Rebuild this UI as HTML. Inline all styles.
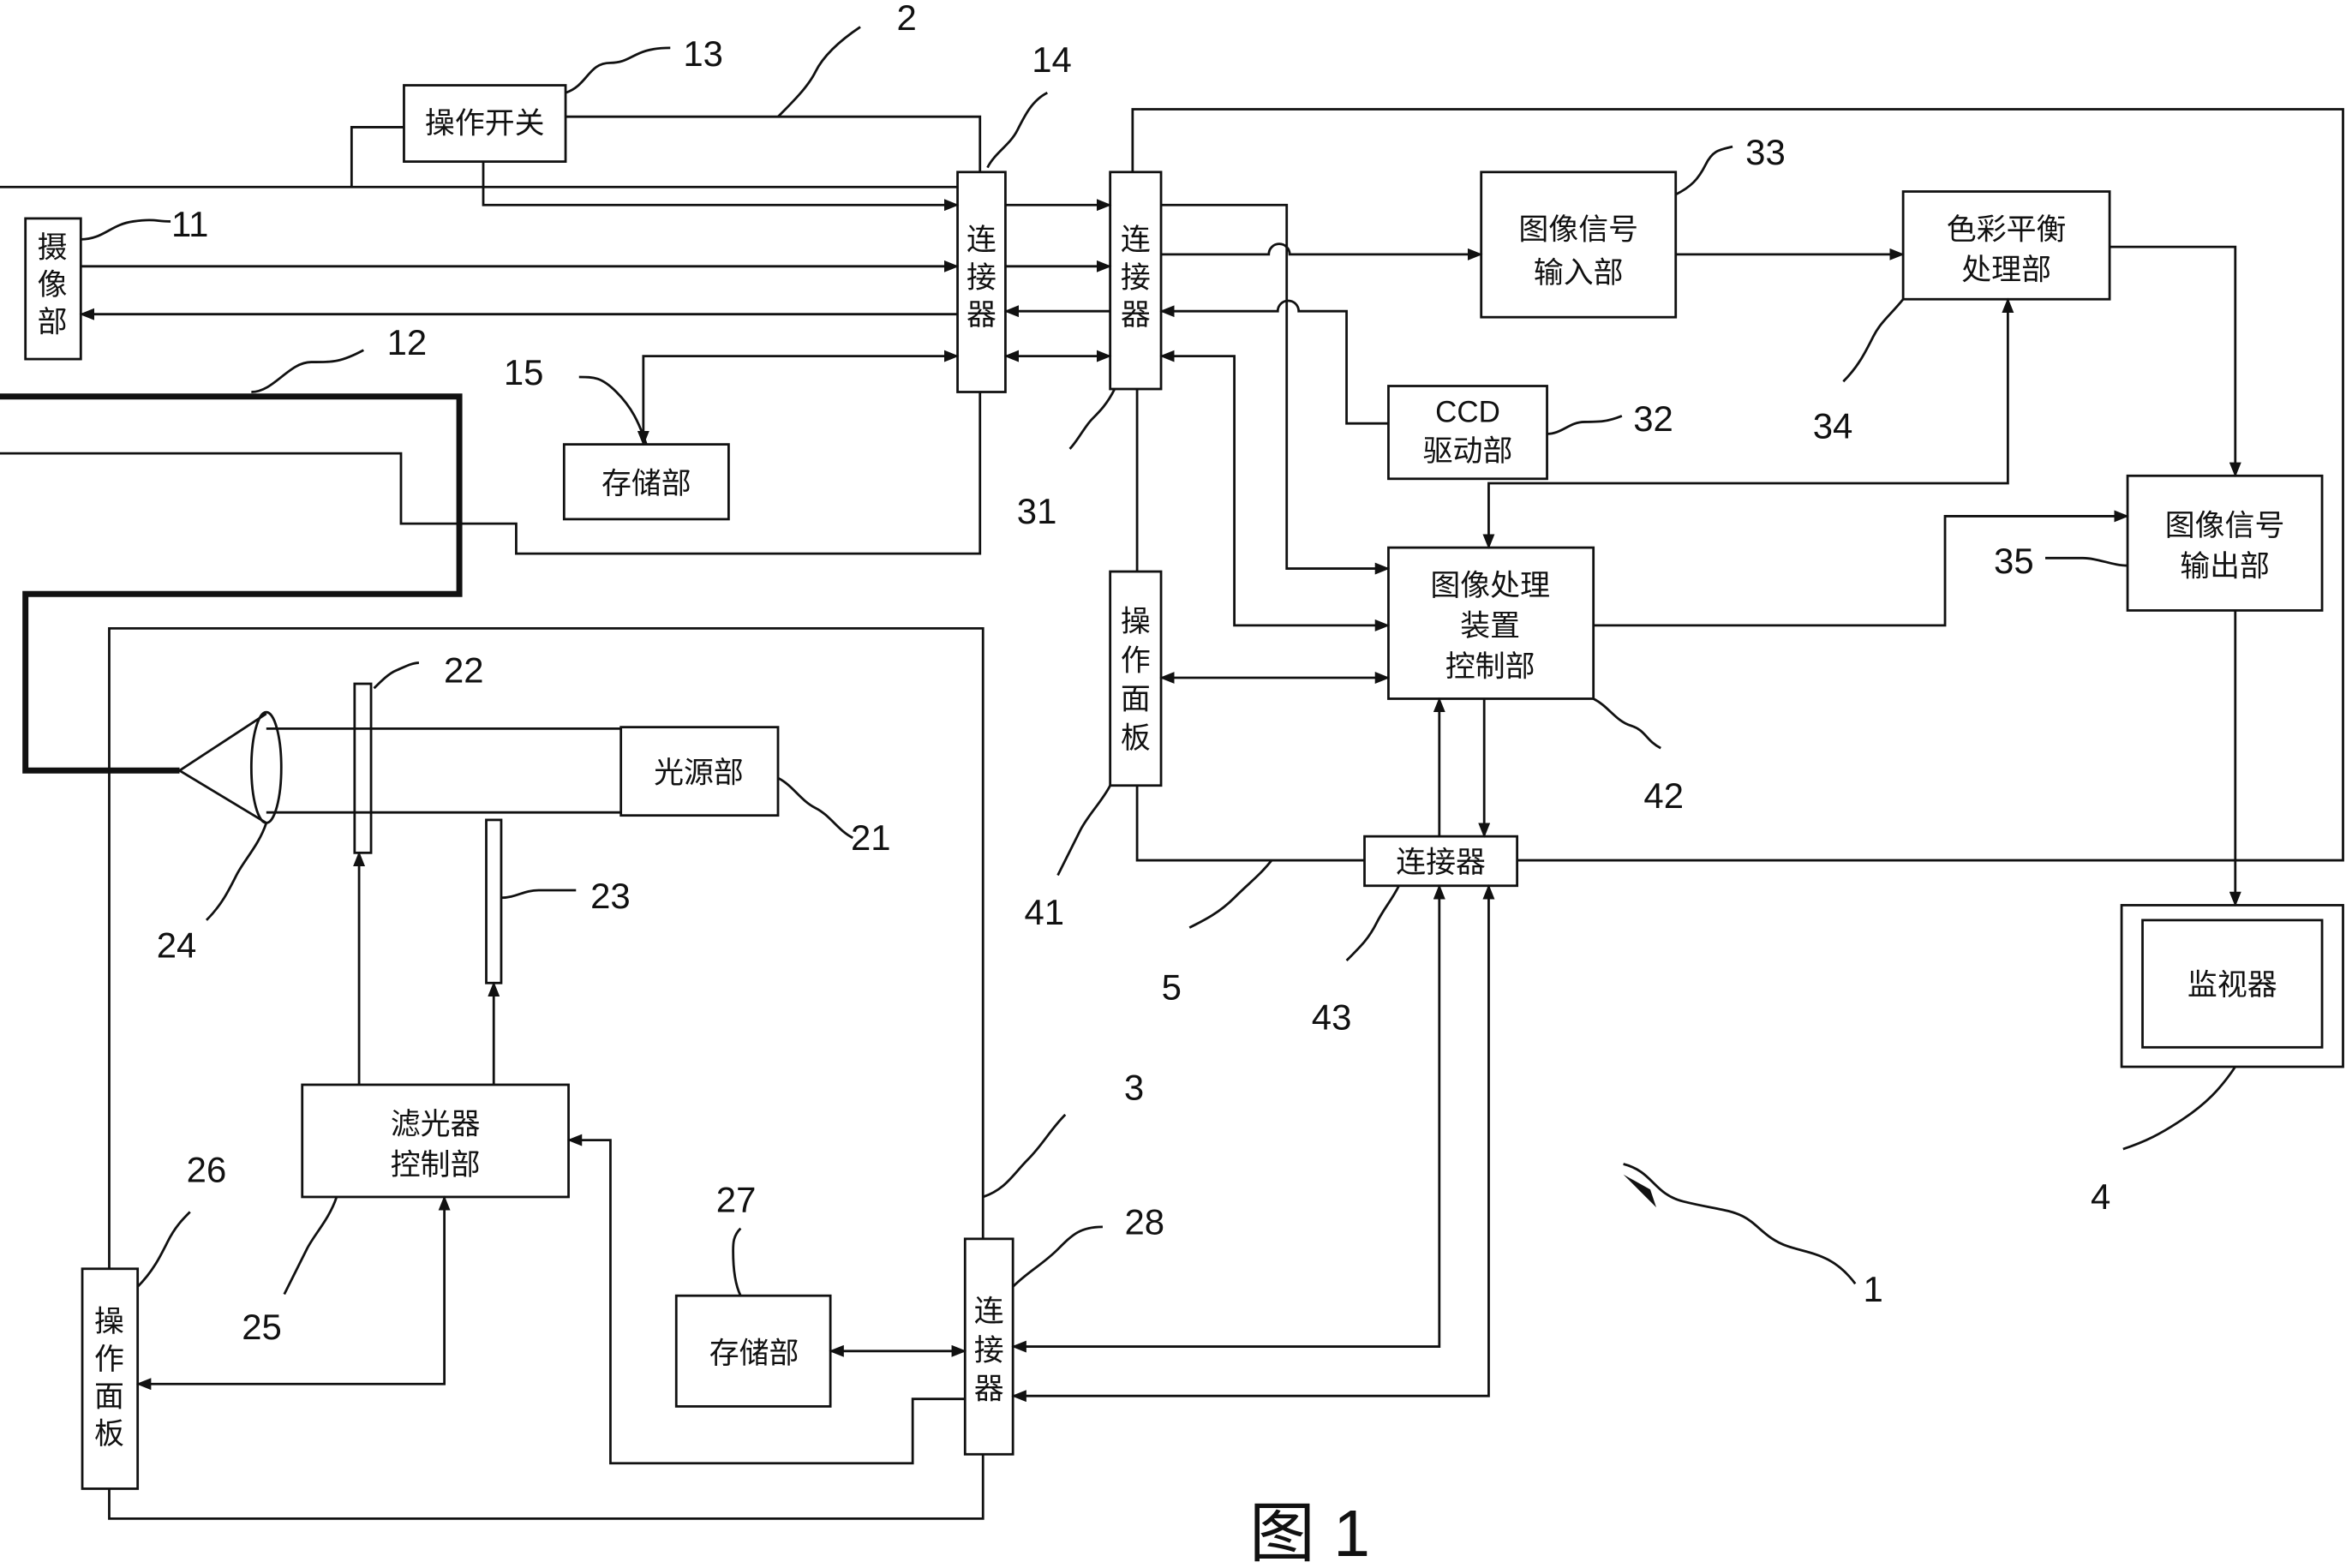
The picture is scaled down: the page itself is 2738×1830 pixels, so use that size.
<!DOCTYPE html>
<html><head><meta charset="utf-8"><style>
html,body{margin:0;padding:0;background:#fff;}
svg{display:block;}
text{font-family:"Liberation Sans","Noto Sans CJK SC",sans-serif;fill:#111;}
.c{font-size:20px;}
.n{font-size:24px;font-family:"Liberation Sans",sans-serif;}
</style></head><body>
<svg width="2738" height="1830" viewBox="0 0 1568 1048" preserveAspectRatio="none" xmlns="http://www.w3.org/2000/svg">
<defs><marker id="a" markerWidth="10" markerHeight="8" refX="9" refY="4" orient="auto-start-reverse" markerUnits="userSpaceOnUse"><path d="M0,0 L10,4 L0,8 Z" fill="#111"/></marker></defs>
<g fill="none" stroke="#111" stroke-width="1.6">
<!-- boxes -->
<rect x="270" y="57" width="108" height="51"/>
<rect x="17" y="146" width="37" height="94"/>
<rect x="640" y="115" width="32" height="147"/>
<rect x="742" y="115" width="34" height="145"/>
<rect x="377" y="297" width="110" height="50"/>
<rect x="990" y="115" width="130" height="97"/>
<rect x="1272" y="128" width="138" height="72"/>
<rect x="928" y="258" width="106" height="62"/>
<rect x="1422" y="318" width="130" height="90"/>
<rect x="928" y="366" width="137" height="101"/>
<rect x="742" y="382" width="34" height="143"/>
<rect x="912" y="559" width="102" height="33"/>
<rect x="1418" y="605" width="148" height="108"/>
<rect x="1432" y="615" width="120" height="85"/>
<rect x="415" y="486" width="105" height="59"/>
<rect x="237" y="457" width="11" height="113"/>
<rect x="325" y="548" width="10" height="109"/>
<rect x="202" y="725" width="178" height="75"/>
<rect x="452" y="866" width="103" height="74"/>
<rect x="645" y="828" width="32" height="144"/>
<rect x="55" y="848" width="37" height="147"/>
<!-- endoscope outline -->
<path d="M0,125 H640"/>
<path d="M0,303 H268 V350 H345 V370 H655 V262"/>
<path d="M270,85 H235 V125"/>
<path d="M378,78 H655 V115"/>
<path d="M323,108 V137 H640" marker-end="url(#a)"/>
<path d="M54,178 H640" marker-end="url(#a)"/>
<path d="M640,210 H54" marker-end="url(#a)"/>
<path d="M672,137 H742" marker-end="url(#a)"/>
<path d="M672,178 H742" marker-end="url(#a)"/>
<path d="M742,208 H672" marker-end="url(#a)"/>
<path d="M672,238 H742" marker-start="url(#a)" marker-end="url(#a)"/>
<path d="M640,238 H430 V297" marker-start="url(#a)" marker-end="url(#a)"/>
<!-- light guide -->
<path d="M0,265 H307 V397 H17 V515 H120" stroke-width="4"/>
<path d="M120,515 L178,477 M120,515 L178,550"/>
<ellipse cx="178" cy="513" rx="10" ry="37"/>
<path d="M178,487 H415 M178,543 H415"/>
<!-- light source box -->
<path d="M73,848 V420 H657 V828 M73,995 V1015 H657 V972"/>
<!-- processor box -->
<path d="M757,115 V73 H1566 V575 H1014 M912,575 H760 V525 M760,382 V260"/>
<!-- processor connections -->
<path d="M776,137 H860 V380 H928" marker-end="url(#a)"/>
<path d="M776,170 H848 A7,7 0 0 1 862,170 H990" marker-end="url(#a)"/>
<path d="M928,283 H900 V208 H868 A7,7 0 0 0 854,208 H776" marker-end="url(#a)"/>
<path d="M776,238 H825 V418 H928" marker-start="url(#a)" marker-end="url(#a)"/>
<path d="M1120,170 H1272" marker-end="url(#a)"/>
<path d="M1410,165 H1494 V318" marker-end="url(#a)"/>
<path d="M995,366 V323 H1342 V200" marker-start="url(#a)" marker-end="url(#a)"/>
<path d="M1065,418 H1300 V345 H1422" marker-end="url(#a)"/>
<path d="M776,453 H928" marker-start="url(#a)" marker-end="url(#a)"/>
<path d="M962,467 V559 M992,467 V559" marker-start="url(#a)" marker-end="url(#a)"/>
<path d="M962,592 V900 H677" marker-start="url(#a)" marker-end="url(#a)"/>
<path d="M995,592 V933 H677" marker-start="url(#a)" marker-end="url(#a)"/>
<path d="M1494,408 V605" marker-end="url(#a)"/>
<!-- light source connections -->
<path d="M555,903 H645" marker-start="url(#a)" marker-end="url(#a)"/>
<path d="M240,725 V570" marker-end="url(#a)"/>
<path d="M330,725 V657" marker-end="url(#a)"/>
<path d="M645,935 H610 V978 H408 V762 H380" marker-end="url(#a)"/>
<path d="M297,800 V925 H92" marker-start="url(#a)" marker-end="url(#a)"/>
<!-- squiggles -->
<path d="M378,62 c15,-5 15,-20 30,-20 s15,-10 40,-10"/>
<path d="M520,78 c10,-10 20,-20 25,-30 s15,-20 30,-30"/>
<path d="M660,112 c5,-10 15,-15 20,-25 s10,-20 20,-25"/>
<path d="M54,160 c15,0 20,-10 35,-12 s15,0 25,0"/>
<path d="M168,262 c15,0 25,-20 40,-20 s20,0 35,-8"/>
<path d="M432,297 c-5,-15 -10,-25 -20,-35 s-15,-10 -25,-10"/>
<path d="M745,260 c-5,10 -10,15 -15,20 s-10,15 -15,20"/>
<path d="M1120,130 c10,-5 15,-10 20,-20 s10,-10 18,-12"/>
<path d="M1034,290 c10,0 15,-8 25,-8 s15,0 25,-4"/>
<path d="M1272,200 c-8,10 -15,15 -20,25 s-10,20 -20,30"/>
<path d="M1422,378 c-10,0 -20,-5 -30,-5 s-15,0 -25,0"/>
<path d="M1065,467 c10,5 15,15 25,18 s10,10 20,15"/>
<path d="M742,525 c-5,10 -15,20 -20,30 s-10,20 -15,30"/>
<path d="M850,575 c-8,10 -15,15 -25,25 s-20,15 -30,20"/>
<path d="M935,592 c-5,10 -10,15 -15,25 s-10,15 -20,25"/>
<path d="M1494,713 c-10,15 -20,25 -35,35 s-25,15 -40,20"/>
<path d="M520,520 c10,5 15,15 25,20 s15,15 25,20"/>
<path d="M335,600 c10,0 15,-5 25,-5 s15,0 25,0"/>
<path d="M250,460 c5,-5 10,-10 15,-12 s10,-5 15,-5"/>
<path d="M178,550 c-5,15 -15,25 -20,35 s-10,20 -20,30"/>
<path d="M657,800 c15,-5 20,-15 30,-25 s15,-20 25,-30"/>
<path d="M677,860 c10,-10 20,-15 30,-25 s15,-15 30,-15"/>
<path d="M495,866 c-5,-10 -5,-25 -5,-30 s0,-10 5,-15"/>
<path d="M92,860 c10,-10 15,-20 20,-30 s10,-15 15,-20"/>
<path d="M225,800 c-5,15 -15,25 -20,35 s-10,20 -15,30"/>
<path d="M1240,858 c-15,-20 -30,-20 -45,-25 s-20,-15 -30,-20 s-20,-5 -40,-10 s-20,-20 -40,-25"/>
</g>
<path d="M1085,785 l22,22 l-4,-12 z" fill="#111"/>
<!-- box labels -->
<text class="c" x="324" y="89" text-anchor="middle">操作开关</text>
<g class="c" text-anchor="middle">
<text x="35" y="172">摄</text><text x="35" y="197">像</text><text x="35" y="222">部</text>
<text x="656" y="167">连</text><text x="656" y="192">接</text><text x="656" y="217">器</text>
<text x="759" y="167">连</text><text x="759" y="192">接</text><text x="759" y="217">器</text>
<text x="759" y="422">操</text><text x="759" y="448">作</text><text x="759" y="474">面</text><text x="759" y="500">板</text>
<text x="661" y="883">连</text><text x="661" y="909">接</text><text x="661" y="935">器</text>
<text x="73" y="890">操</text><text x="73" y="915">作</text><text x="73" y="940">面</text><text x="73" y="965">板</text>
<text x="432" y="330">存储部</text>
<text x="1055" y="160">图像信号</text><text x="1055" y="189">输入部</text>
<text x="1341" y="160">色彩平衡</text><text x="1341" y="187">处理部</text>
<text x="981" y="282">CCD</text><text x="981" y="308">驱动部</text>
<text x="1487" y="358">图像信号</text><text x="1487" y="385">输出部</text>
<text x="996" y="398">图像处理</text><text x="996" y="425">装置</text><text x="996" y="452">控制部</text>
<text x="963" y="583">连接器</text>
<text x="1492" y="665">监视器</text>
<text x="467" y="523">光源部</text>
<text x="291" y="758">滤光器</text><text x="291" y="785">控制部</text>
<text x="504" y="911">存储部</text>
</g>
<!-- numbers -->
<g class="n" text-anchor="middle">
<text x="470" y="44">13</text><text x="606" y="20">2</text><text x="703" y="48">14</text>
<text x="127" y="158">11</text><text x="272" y="237">12</text><text x="350" y="257">15</text>
<text x="693" y="350">31</text><text x="1180" y="110">33</text><text x="1105" y="288">32</text>
<text x="1225" y="293">34</text><text x="1346" y="383">35</text><text x="1112" y="540">42</text>
<text x="698" y="618">41</text><text x="783" y="668">5</text><text x="890" y="688">43</text>
<text x="1404" y="808">4</text><text x="310" y="456">22</text><text x="582" y="568">21</text>
<text x="408" y="607">23</text><text x="118" y="640">24</text><text x="758" y="735">3</text>
<text x="765" y="825">28</text><text x="492" y="810">27</text><text x="138" y="790">26</text>
<text x="175" y="895">25</text><text x="1252" y="870">1</text>
</g>
<text x="835" y="1040" style="font-size:44px">图 1</text>
</svg>
</body></html>
